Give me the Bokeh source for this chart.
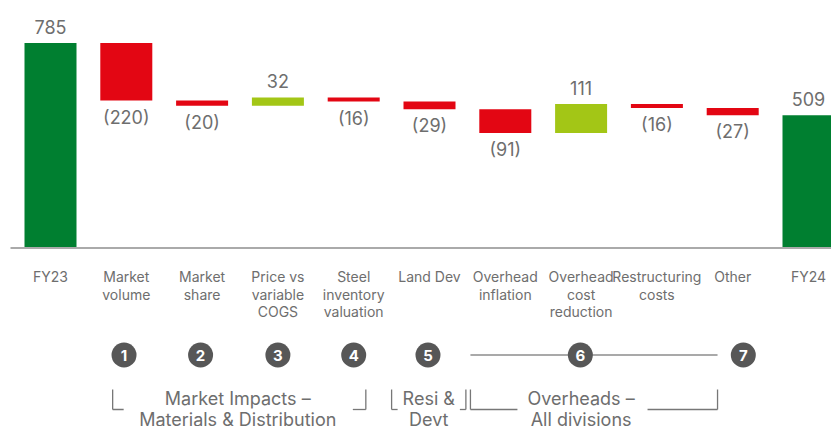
from bokeh.plotting import figure
from bokeh.models import Range1d
from bokeh.embed import file_html
from bokeh.resources import INLINE
from bokeh.core.properties import value

# ---------------- data ----------------
categories = ["FY23", "Market\nvolume", "Market\nshare", "Price vs\nvariable\nCOGS",
              "Steel\ninventory\nvaluation", "Land Dev", "Overhead\ninflation",
              "Overhead\ncost\nreduction", "Restructuring\ncosts", "Other", "FY24"]
amounts = [785, -220, -20, 32, -16, -29, -91, 111, -16, -27, 509]
is_total = [True, False, False, False, False, False, False, False, False, False, True]
amount_labels = ["785", "(220)", "(20)", "32", "(16)", "(29)", "(91)", "111", "(16)", "(27)", "509"]

step_numbers = ["1", "2", "3", "4", "5", "6", "7"]
step_at = [0.97, 1.98, 3.0, 4.0, 4.98, 6.99, 9.14]   # category index of each numbered marker

group_names = ["Market Impacts –\nMaterials & Distribution", "Resi &\nDevt", "Overheads –\nAll divisions"]
group_from = [0.82, 4.50, 5.54]             # category-index extent of each bracket
group_to = [4.16, 5.48, 8.80]
group_text_at = [2.47, 4.99, 7.0]
group_stub_l = [11, 6, 47]                  # px length of bracket foot (left)
group_stub_r = [13, 6, 70]                  # px length of bracket foot (right)

# ---------------- layout ----------------
W, H = 831, 426
PX_CAT = 75.8        # px per category
PX_UNIT = 0.261      # px per value unit
CAT0_PAGE = 50       # page x of first category centre
BASE_PAGE = 247.5    # page y of zero line
LEFT_PAGE, TOP_PAGE = 0, 0

def xp(page_x):
    return (page_x - CAT0_PAGE) / PX_CAT

def yp(page_y):
    return (BASE_PAGE - page_y) / PX_UNIT

GREEN, RED, LIME = "#007f30", "#e30613", "#a3c616"
TXT = "#6e6e6e"
FONT = value("Inter")

p = figure(width=W, height=H, output_backend="svg", toolbar_location=None,
           x_range=Range1d(xp(LEFT_PAGE), xp(LEFT_PAGE + W)),
           y_range=Range1d(yp(TOP_PAGE + H), yp(TOP_PAGE)),
           min_border=0, outline_line_color=None)
p.axis.visible = False
p.grid.visible = False
p.background_fill_color = "white"
p.border_fill_color = "white"

# waterfall geometry
xs, tops, bottoms, colors = [], [], [], []
running = 0
for i, (a, tot) in enumerate(zip(amounts, is_total)):
    if tot:
        b, t = 0, a
        running = a
        c = GREEN
    else:
        start, end = running, running + a
        b, t = min(start, end), max(start, end)
        running = end
        c = LIME if a > 0 else RED
    xs.append(i); tops.append(t); bottoms.append(b); colors.append(c)

p.vbar(x=xs, top=tops, bottom=bottoms, width=52 / PX_CAT, fill_color=colors, line_color=None)

# zero line
p.segment(x0=[xp(10)], y0=[0], x1=[xp(LEFT_PAGE + W + 5)], y1=[0], line_color="#aaaaaa", line_width=2)

# value labels
lx, ly, lt = [], [], []
for i, a in enumerate(amounts):
    lx.append(i)
    lt.append(amount_labels[i])
    if a >= 0:
        ly.append(tops[i] + 16 / PX_UNIT)
    else:
        ly.append(bottoms[i] - 16.5 / PX_UNIT)
p.text(x=lx, y=ly, text=lt, text_font=FONT, text_font_size="18px", text_color=TXT,
       text_align="center", text_baseline="middle")

# category labels
cx, cy, ct = [], [], []
for i, c in enumerate(categories):
    for k, line in enumerate(c.split("\n")):
        cx.append(i); cy.append(yp(276 + 17.5 * k)); ct.append(line)
p.text(x=cx, y=cy, text=ct, text_font=FONT, text_font_size="14px", text_color=TXT,
       text_align="center", text_baseline="middle")

# connector line through markers 5-7
CIRC_Y = yp(354.5)
p.segment(x0=[group_from[2]], y0=[CIRC_Y], x1=[group_to[2]], y1=[CIRC_Y],
          line_color="#555555", line_width=1.2)

# numbered markers
p.scatter(x=step_at, y=[CIRC_Y] * len(step_at), marker="circle", size=25,
          fill_color="#575757", line_color=None)
p.text(x=step_at, y=[CIRC_Y] * len(step_at), text=step_numbers, text_font=FONT,
       text_font_size="15px", text_font_style="bold", text_color="white",
       text_align="center", text_baseline="middle")

# brackets
BR_TOP, BR_BOT = yp(389), yp(409)
bx0, by0, bx1, by1 = [], [], [], []
for g0, g1, sl, sr in zip(group_from, group_to, group_stub_l, group_stub_r):
    bx0 += [g0, g0, g1, g1 - sr / PX_CAT]
    by0 += [BR_TOP, BR_BOT, BR_TOP, BR_BOT]
    bx1 += [g0, g0 + sl / PX_CAT, g1, g1]
    by1 += [BR_BOT, BR_BOT, BR_BOT, BR_BOT]
p.segment(x0=bx0, y0=by0, x1=bx1, y1=by1, line_color="#777777", line_width=1.3)

# group texts
gx, gy, gt = [], [], []
for name, gxpos in zip(group_names, group_text_at):
    for k, line in enumerate(name.split("\n")):
        gx.append(gxpos); gy.append(yp(398 + 21 * k)); gt.append(line)
p.text(x=gx, y=gy, text=gt, text_font=FONT, text_font_size="18px", text_color=TXT,
       text_align="center", text_baseline="middle")

open("out.html", "w").write(file_html(p, INLINE))
